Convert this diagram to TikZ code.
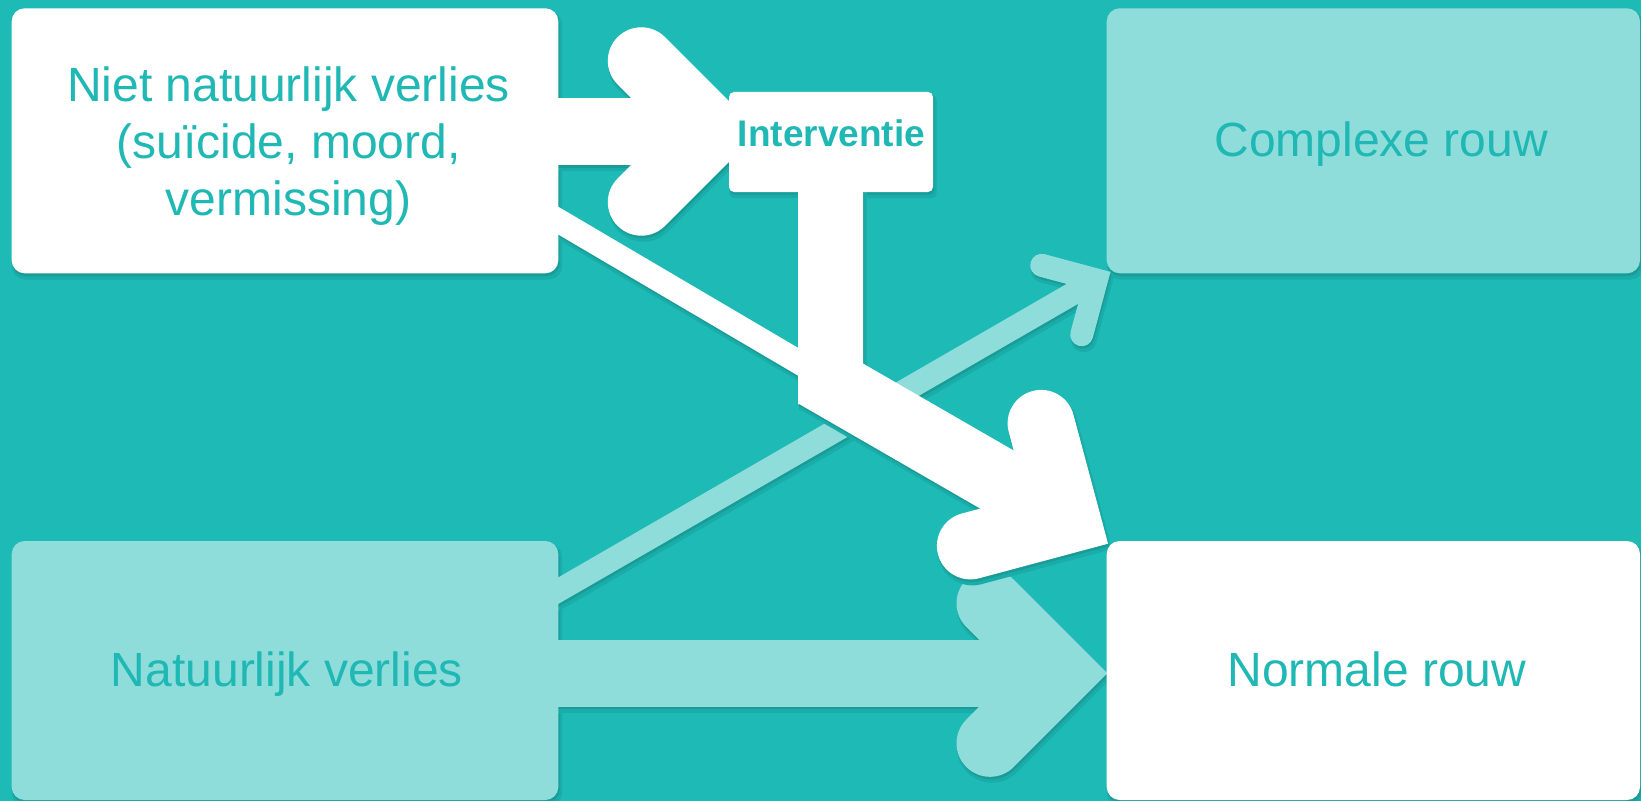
\documentclass[tikz,border=0pt]{standalone}
\usepackage{fontspec}
\setmainfont{Liberation Sans}
\definecolor{bgteal}{HTML}{1EBAB6}
\definecolor{pale}{HTML}{8FDDDA}
\definecolor{txtteal}{HTML}{1FB8B4}
\definecolor{shin}{HTML}{179C98}
\definecolor{shout}{HTML}{1AACA8}
\pgfdeclarelayer{back}
\pgfdeclarelayer{arrows}
\pgfdeclarelayer{boxshadow}
\pgfsetlayers{back,boxshadow,arrows,main}

% #1 colour, #2 extra width
\newcommand\palearrowpaths[2]{%
  \draw[arrshaft={67bp+#2}, shorten <=-20bp, #1] (nv.east |- p1t) -- (p1t);
  \draw[arrhead={67bp+#2}, #1] (p1a) -- (p1t) -- (p1b);
  \draw[arrshaft={23bp+#2}, #1] (p2s) -- (p2t);
  \draw[arrhead={23bp+#2}, #1] (p2a) -- (p2t) -- (p2b);
}
\newcommand\whitearrowpaths[2]{%
  \draw[arrshaft={67bp+#2}, shorten <=-20bp, #1] (nnv.east |- w1t) -- (w1t);
  \draw[arrhead={67bp+#2}, #1] (w1a) -- (w1t) -- (w1b);
  \draw[arrshaft={24bp+#2}, #1] (w2s) -- (w2t);
  \path[fill=#1, draw=#1, line width={0.01bp+#2}] (stemtop) rectangle (stembot);
  \draw[arrshaft={67bp+#2}, #1] (w2m) -- (w2t);
  \draw[arrhead={67bp+#2}, #1] (w2a) -- (w2t) -- (w2b);
}

\begin{document}
\begin{tikzpicture}[x=1bp, y=-1bp,
  box/.style={rounded corners=13bp, inner sep=0pt, draw=none},
  lbl/.style={text=txtteal, inner sep=0pt},
  big/.style={font=\fontsize{48bp}{57bp}\selectfont},
  arrshaft/.style={line width=#1, line cap=butt},
  arrhead/.style={line width=#1, line cap=round, line join=miter, miter limit=4},
  shoutpos/.style={transform canvas={xshift=2bp,yshift=-4.5bp}},
  shinpos/.style={transform canvas={xshift=1bp,yshift=-2.5bp}}]
\useasboundingbox (0,0) rectangle (1641,801);
\begin{pgfonlayer}{back}
  \fill[bgteal] (0,0) rectangle (1641,801);
\end{pgfonlayer}

% boxes
\node[box, fill=white, minimum width=546.6bp, minimum height=265bp] (nnv) at (285,140.8) {};
\node[box, fill=pale, minimum width=546.6bp, minimum height=259bp] (nv) at (285,670.5) {};
\node[box, fill=pale, minimum width=533.3bp, minimum height=265bp] (cr) at (1373.35,140.8) {};
\node[box, fill=white, minimum width=533.3bp, minimum height=259bp] (nr) at (1373.35,670.5) {};
\node[box, fill=white, rounded corners=5bp, minimum width=204bp, minimum height=100bp] (intv) at (831,142) {};

% texts
\node[lbl, big, align=center] (nnvt) at (288.5,146.5) {Niet natuurlijk verlies\\(suïcide, moord,\\vermissing)};
\node[lbl, big, anchor=base] (nvt) at (287,686.7) {Natuurlijk verlies};
\node[lbl, big, anchor=base] (crt) at (1381.3,156.7) {Complexe rouw};
\node[lbl, big, anchor=base] (nrt) at (1377,686.7) {Normale rouw};
\node[lbl, font=\bfseries\fontsize{37bp}{40bp}\selectfont, anchor=base] (intt) at (831.5,146.7) {Interventie};

% box shadows
\begin{pgfonlayer}{boxshadow}
\foreach \b/\r in {nnv/13,nv/13,cr/13,nr/13,intv/5} {
  \fill[shout, rounded corners=\r bp, shoutpos] ([shift={(-1.5,-1.5)}]\b.north west) rectangle ([shift={(1.5,1.5)}]\b.south east);
  \fill[shin, rounded corners=\r bp, shinpos] (\b.north west) rectangle (\b.south east);
}
\end{pgfonlayer}

% arrow geometry
\coordinate (p1t) at (1060,673.3);
\coordinate (p1a) at (990,603.3);
\coordinate (p1b) at (990,743.3);
\coordinate (p2s) at (540,601.2);
\coordinate (p2t) at (1096.4,280);
\coordinate (p2a) at (1041.7,265.3);
\coordinate (p2b) at (1081.7,334.7);
\coordinate (w1t) at (712,131.5);
\coordinate (w1a) at (641.3,60.8);
\coordinate (w1b) at (641.3,202.2);
\coordinate (w2s) at (540,209.9);
\coordinate (w2m) at (815,374.5);
\coordinate (w2t) at (1067,520);
\coordinate (w2a) at (1041.1,423.4);
\coordinate (w2b) at (970.4,545.9);
\coordinate (stemtop) at (798.3,185);
\coordinate (stembot) at (863.3,404);

\begin{pgfonlayer}{arrows}
  \begin{scope}[shoutpos]\palearrowpaths{shout}{3bp}\end{scope}
  \begin{scope}[shinpos]\palearrowpaths{shin}{0bp}\end{scope}
  \palearrowpaths{pale}{0bp}
  \begin{scope}[shoutpos]\whitearrowpaths{shout}{3bp}\end{scope}
  \begin{scope}[shinpos]\whitearrowpaths{shin}{0bp}\end{scope}
  \whitearrowpaths{white}{0bp}
\end{pgfonlayer}
\end{tikzpicture}
\end{document}
